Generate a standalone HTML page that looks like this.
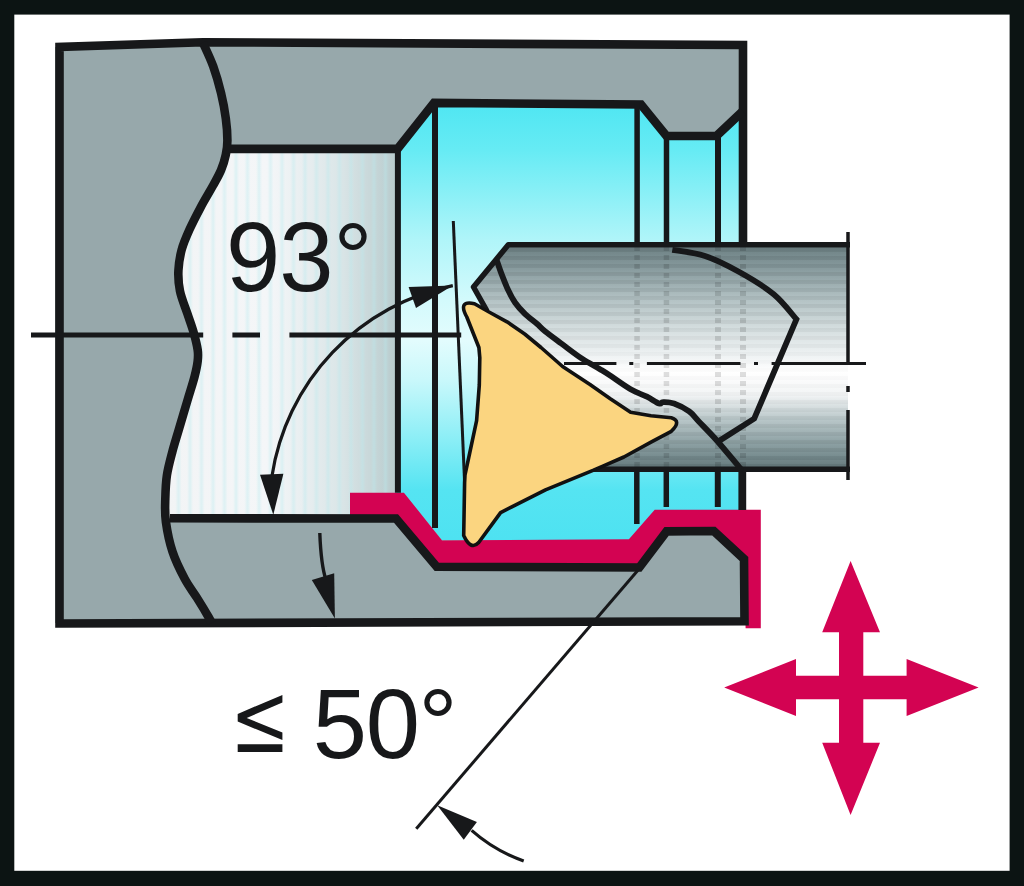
<!DOCTYPE html>
<html><head><meta charset="utf-8">
<style>
html,body{margin:0;padding:0;background:#0c1413;}
svg{display:block;}
text{font-family:"Liberation Sans", sans-serif;}
</style></head>
<body>
<svg width="1024" height="886" viewBox="0 0 1024 886">
<defs>
  <linearGradient id="cyan" x1="0" y1="104" x2="0" y2="540" gradientUnits="userSpaceOnUse">
    <stop offset="0" stop-color="#4fe6f2"/>
    <stop offset="0.105" stop-color="#66ebf4"/>
    <stop offset="0.312" stop-color="#b0f5f9"/>
    <stop offset="0.45" stop-color="#d3fafc"/>
    <stop offset="0.541" stop-color="#e3fcfd"/>
    <stop offset="0.633" stop-color="#c9f8fb"/>
    <stop offset="0.771" stop-color="#8aeef6"/>
    <stop offset="0.885" stop-color="#55e4f2"/>
    <stop offset="1" stop-color="#4ee2f1"/>
  </linearGradient>
  <linearGradient id="bore" x1="165" y1="0" x2="397" y2="0" gradientUnits="userSpaceOnUse">
    <stop offset="0" stop-color="#f2f4f5"/>
    <stop offset="0.45" stop-color="#f4f6f8"/>
    <stop offset="0.75" stop-color="#dbe6e8"/>
    <stop offset="1" stop-color="#b8cbcd"/>
  </linearGradient>
  <linearGradient id="bar" x1="0" y1="244" x2="0" y2="469" gradientUnits="userSpaceOnUse">
    <stop offset="0" stop-color="#6a7e81"/>
    <stop offset="0.116" stop-color="#8a9da0"/>
    <stop offset="0.249" stop-color="#b4c3c5"/>
    <stop offset="0.382" stop-color="#d6dfe0"/>
    <stop offset="0.493" stop-color="#eef2f3"/>
    <stop offset="0.569" stop-color="#ffffff"/>
    <stop offset="0.671" stop-color="#f2f4f5"/>
    <stop offset="0.782" stop-color="#b8c6c8"/>
    <stop offset="0.893" stop-color="#8a9ea1"/>
    <stop offset="1" stop-color="#64797c"/>
  </linearGradient>
  <pattern id="hstripe" x="0" y="0" width="20" height="8" patternUnits="userSpaceOnUse">
    <rect x="0" y="0" width="20" height="4" fill="#000" fill-opacity="0.07"/>
  </pattern>
  <linearGradient id="sg" x1="0" y1="0" x2="1" y2="0">
    <stop offset="0" stop-color="#b8eaee" stop-opacity="0"/>
    <stop offset="0.5" stop-color="#b8eaee" stop-opacity="0.4"/>
    <stop offset="1" stop-color="#b8eaee" stop-opacity="0"/>
  </linearGradient>
  <pattern id="vstripe" x="3" y="0" width="11.5" height="20" patternUnits="userSpaceOnUse">
    <rect x="0" y="0" width="6" height="20" fill="url(#sg)"/>
  </pattern>
  <linearGradient id="mg" x1="0" y1="244" x2="0" y2="469" gradientUnits="userSpaceOnUse">
    <stop offset="0" stop-color="#fff"/>
    <stop offset="0.35" stop-color="#aaa"/>
    <stop offset="0.55" stop-color="#222"/>
    <stop offset="0.7" stop-color="#666"/>
    <stop offset="1" stop-color="#fff"/>
  </linearGradient>
  <mask id="barmask" maskUnits="userSpaceOnUse" x="0" y="0" width="1024" height="886">
    <rect x="0" y="240" width="1024" height="235" fill="url(#mg)"/>
  </mask>
  <pattern id="dash" x="0" y="246" width="20" height="9" patternUnits="userSpaceOnUse">
    <rect x="0" y="0" width="20" height="5" fill="#000" fill-opacity="0.13"/>
  </pattern>
</defs>

<rect x="0" y="0" width="1024" height="886" fill="#0c1413"/>
<rect x="14.3" y="14.6" width="995.3" height="856.2" fill="#ffffff"/>

<!-- gray body -->
<polygon points="59.5,47 202.9,42.6 743,45 744,621.2 59.5,623.5" fill="#97a8ab"/>

<!-- bore -->
<polygon points="150,148.9 397,148.9 397,518.3 150,518.3" fill="url(#bore)"/>
<polygon points="150,148.9 397,148.9 397,518.3 150,518.3" fill="url(#vstripe)"/>

<!-- cyan -->
<polygon points="397,149.6 434,102.9 641,104.5 666.5,136 716.5,136 743,111 743,511 654.7,511 628.9,540 442,540 403.9,493 397,493" fill="url(#cyan)"/>

<!-- left gray -->
<path d="M55,47 L202.9,42.6 C204.6,46.5 210.2,57.9 213.2,66.3 C216.2,74.7 219.0,84.5 221.1,93.2 C223.2,101.9 224.8,110.6 225.8,118.5 C226.9,126.4 227.4,134.5 227.4,140.6 C227.4,146.7 226.9,149.9 225.8,154.8 C224.8,159.7 223.2,164.9 221.1,170.0 C219.0,175.1 216.6,179.1 213.2,185.3 C209.8,191.5 204.5,200.0 200.6,207.4 C196.7,214.8 192.7,222.4 189.5,229.5 C186.3,236.6 183.4,243.2 181.6,250.0 C179.8,256.9 178.7,263.8 178.4,270.6 C178.1,277.5 178.5,283.9 180.0,291.1 C181.5,298.3 185.1,306.8 187.4,313.7 C189.7,320.6 192.0,326.6 193.7,332.7 C195.4,338.8 197.0,345.3 197.7,350.0 C198.4,354.7 198.2,356.5 197.7,361.0 C197.2,365.5 196.2,370.3 194.5,376.9 C192.8,383.5 190.0,391.8 187.4,400.6 C184.8,409.5 181.2,421.5 178.7,430.0 C176.2,438.5 174.4,444.1 172.4,451.6 C170.4,459.2 168.1,467.4 166.9,475.3 C165.7,483.2 165.5,491.2 165.3,499.0 C165.1,506.8 164.7,513.1 165.9,521.9 C167.1,530.7 169.4,542.2 172.5,551.7 C175.6,561.2 180.6,571.1 184.7,578.8 C188.8,586.5 192.8,591.3 196.9,597.8 C201.0,604.3 206.7,613.8 209.1,618.0 C211.5,622.2 211.1,622.2 211.5,623.0 L55,623 Z" fill="#97a8ab"/>

<!-- bar -->
<polygon points="508.3,244.8 848,244.8 848,469 593,469 520,400 485,307.6 473.5,287" fill="url(#bar)"/>
<polygon points="508.3,244.8 848,244.8 848,469 593,469 520,400 485,307.6 473.5,287" fill="url(#hstripe)" mask="url(#barmask)"/>
<g fill="url(#dash)"><rect x="634.3" y="247" width="5.5" height="220"/><rect x="663.7" y="247" width="5.5" height="220"/><rect x="715" y="247" width="6" height="220"/><rect x="740" y="247" width="6" height="220"/></g>

<!-- red profile -->
<polygon points="350,492.7 403.9,492.7 442,540.4 628.9,539.3 654.7,509.7 760.8,509.7 760.8,628.3 745.6,628.3 744,559 713.8,531 666.6,531.4 639.3,567.5 436.7,566.7 396,518.7 350,518.7" fill="#d30352"/>

<g fill="none" stroke="#17181a" stroke-linejoin="miter">
  <polyline points="743,244 743,45 202.9,42.3 59.5,47 59.5,623.5 744.5,621.2 744,559 713.8,531 666.6,531.4 639.3,567.5 436.7,566.7 396,518.5 170,518.3" stroke-width="8.6"/>
  <path d="M202.9,42.6 C204.6,46.5 210.2,57.9 213.2,66.3 C216.2,74.7 219.0,84.5 221.1,93.2 C223.2,101.9 224.8,110.6 225.8,118.5 C226.9,126.4 227.4,134.5 227.4,140.6 C227.4,146.7 226.9,149.9 225.8,154.8 C224.8,159.7 223.2,164.9 221.1,170.0 C219.0,175.1 216.6,179.1 213.2,185.3 C209.8,191.5 204.5,200.0 200.6,207.4 C196.7,214.8 192.7,222.4 189.5,229.5 C186.3,236.6 183.4,243.2 181.6,250.0 C179.8,256.9 178.7,263.8 178.4,270.6 C178.1,277.5 178.5,283.9 180.0,291.1 C181.5,298.3 185.1,306.8 187.4,313.7 C189.7,320.6 192.0,326.6 193.7,332.7 C195.4,338.8 197.0,345.3 197.7,350.0 C198.4,354.7 198.2,356.5 197.7,361.0 C197.2,365.5 196.2,370.3 194.5,376.9 C192.8,383.5 190.0,391.8 187.4,400.6 C184.8,409.5 181.2,421.5 178.7,430.0 C176.2,438.5 174.4,444.1 172.4,451.6 C170.4,459.2 168.1,467.4 166.9,475.3 C165.7,483.2 165.5,491.2 165.3,499.0 C165.1,506.8 164.7,513.1 165.9,521.9 C167.1,530.7 169.4,542.2 172.5,551.7 C175.6,561.2 180.6,571.1 184.7,578.8 C188.8,586.5 192.8,591.3 196.9,597.8 C201.0,604.3 206.7,613.8 209.1,618.0 C211.5,622.2 211.1,622.2 211.5,623.0" stroke-width="8.6"/>
  <polyline points="224,148.9 397.5,148.9 434,102.9 641,104.5 666.5,136 716.5,136 743,111" stroke-width="8.6"/>
  <line x1="397.9" y1="149" x2="397.9" y2="492.7" stroke-width="6"/>
  <line x1="435" y1="103" x2="435" y2="528" stroke-width="6"/>
  <line x1="637.1" y1="103" x2="637.1" y2="244" stroke-width="5.5"/>
  <line x1="636.8" y1="469" x2="636.8" y2="524" stroke-width="5.5"/>
  <line x1="666.5" y1="136" x2="666.5" y2="244" stroke-width="5.5"/>
  <line x1="666.3" y1="469" x2="666.3" y2="507" stroke-width="5.5"/>
  <line x1="718" y1="136" x2="718" y2="244" stroke-width="6"/>
  <line x1="717.8" y1="469" x2="717.8" y2="507" stroke-width="6"/>
  <line x1="742.3" y1="469" x2="742.3" y2="510" stroke-width="7.8"/>
  <!-- bar outline -->
  <polyline points="850,244.8 508.3,244.8 473.5,287 487,311" stroke-width="5.5" stroke-linejoin="round"/>
  <line x1="593" y1="469.3" x2="850" y2="469.3" stroke-width="5.5"/>
  <path d="M496.6,259.9 C497.5,262.3 499.7,269.3 501.7,274.4 C503.7,279.5 506.1,285.9 508.4,290.6 C510.6,295.3 512.5,299.0 515.2,302.8 C517.9,306.6 521.1,310.2 524.7,313.7 C528.3,317.2 533.5,320.9 536.9,323.8 C540.3,326.7 540.9,328.0 545.0,331.3 C549.1,334.6 555.2,339.0 561.3,343.5 C567.4,348.0 575.1,354.1 581.6,358.4 C588.1,362.7 595.2,366.3 600.0,369.2 C604.8,372.1 605.2,372.3 610.3,375.7 C615.4,379.1 624.5,385.8 630.6,389.3 C636.7,392.8 642.1,394.3 646.9,396.7 C651.6,399.1 656.4,402.6 659.1,403.5 C661.8,404.4 660.6,402.1 663.1,402.1 C665.6,402.1 669.6,401.9 674.0,403.5 C678.4,405.1 685.1,408.4 689.2,411.4 C693.3,414.4 694.2,416.7 698.8,421.5 C703.4,426.3 710.0,432.8 716.6,440.2 C723.2,447.6 734.3,461.3 738.4,466.1 C742.5,470.9 740.6,468.5 741.0,469.0" stroke-width="5.8"/>
  <path d="M672.3,249.8 C677.8,250.8 693.8,252.3 705.0,256.0 C716.2,259.7 727.8,265.6 739.3,272.0 C750.8,278.4 764.5,286.6 774.0,294.5 C783.5,302.4 792.7,315.2 796.4,319.3 L754.2,418.6 L719,441" stroke-width="5.8"/>
  <line x1="848" y1="232" x2="848" y2="365" stroke-width="3.5"/>
  <line x1="848" y1="386" x2="848" y2="392" stroke-width="3.5"/>
  <line x1="848" y1="410" x2="848" y2="480" stroke-width="3.5"/>
  <!-- center lines -->
  <line x1="31" y1="335" x2="203.2" y2="335" stroke-width="5"/>
  <line x1="232.4" y1="335" x2="260" y2="335" stroke-width="5"/>
  <line x1="289.4" y1="335" x2="461.2" y2="335" stroke-width="5"/>
  <path d="M564,363.5 H616.4 M629.3,363.5 H633.3 M646.9,363.5 H740.5 M754,363.5 H758 M771.6,363.5 H866" stroke-width="3"/>
  <line x1="453.3" y1="221" x2="464.5" y2="480" stroke-width="3"/>
  <path d="M452.8,285.6 A229.8,229.8 0 0 0 272,476" stroke-width="3.2"/>
  <line x1="416.25" y1="828.75" x2="639" y2="569" stroke-width="3"/>
  <path d="M471.6,830.4 Q494.6,850.8 523.7,860.9" stroke-width="3.2"/>
  <path d="M319.8,533 Q321,565 326,580" stroke-width="3.4"/>
</g>

<path d="M466.8,317 Q457.5,300 474.5,303.8 L489,312 L507,321.8 L524.7,334 L541,347.5 L562.6,366.5 L590,384.5 L610.3,398.8 L630.6,412.3 L651,415.7 L671.3,417.7 Q682,421 671.3,431.3 L651,442.1 L623.9,457 L603.5,465.8 L593,470.4 L545.5,489.8 L500.6,512.6 L478.7,542.5 Q470.8,551 463.7,535.5 L464.6,482.7 L465,474.9 L469.1,455.9 L476.6,420.6 L479.3,385 L479.8,357.7 L478.9,347.5 Z" fill="#fbd580" stroke="#111" stroke-width="3.6" stroke-linejoin="round"/>

<g fill="#17181a">
  <polygon points="452.8,285.6 408.6,286.9 416,308"/>
  <polygon points="273.3,514.8 260,474.7 283.4,473.8"/>
  <polygon points="334.9,618.5 311.8,580 334.2,573.3"/>
  <polygon points="437.2,805.3 463.75,839.7 476.9,821.9"/>
</g>

<path d="M850.6,561 L880,632.2 L863.3,632.2 L863.3,675.8 L906.6,675.8 L906.6,659 L978.6,687.5 L906.6,716 L906.6,699.2 L863.3,699.2 L863.3,742.8 L880,742.8 L850.6,814.9 L822.2,742.8 L839,742.8 L839,699.2 L796,699.2 L796,716 L724.2,687.5 L796,659 L796,675.8 L839,675.8 L839,632.2 L822.2,632.2 Z" fill="#d30352"/>

<g font-size="97.5" fill="#17181a">
<text x="225.9" y="290.5">9</text><text x="279.3" y="290.5">3</text><text x="333.5" y="290.5">°</text>
<text x="312.7" y="758">5</text><text x="365.8" y="758">0</text><text x="418.5" y="757">°</text>
</g>
<path d="M282.4,694.9 L282.4,702.6 L246.7,718 L282.4,732.4 L282.4,740.1 L237.7,721.6 L237.7,713.9 Z M237.7,744.3 H282.4 V752 H237.7 Z" fill="#17181a"/>
</svg>
</body></html>
